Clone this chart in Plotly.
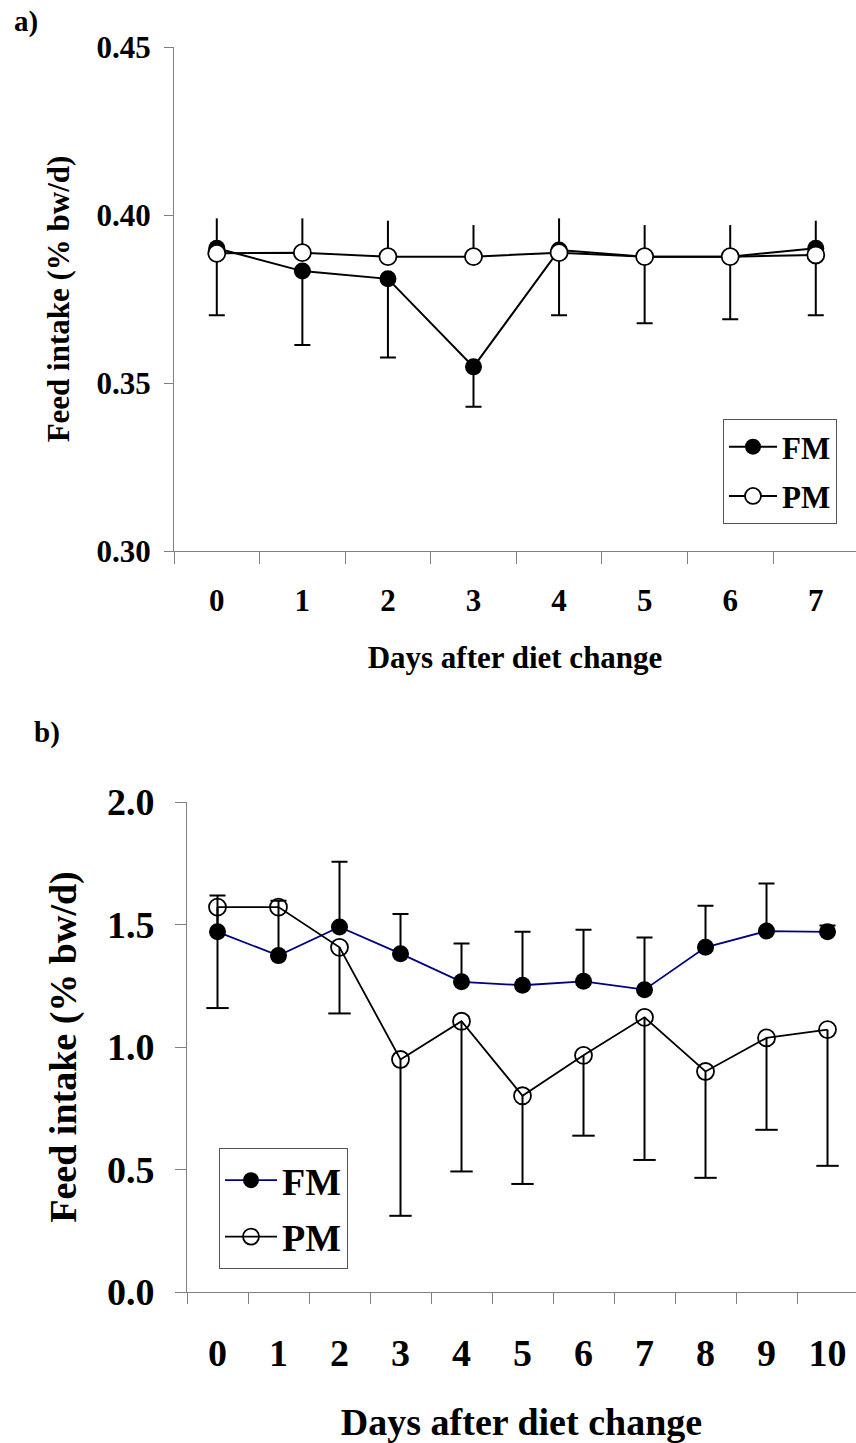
import plotly.graph_objects as go

W, H = 856, 1443

# ---- Panel a: first week after the diet change ----
days_a = [0, 1, 2, 3, 4, 5, 6, 7]
fm_a = [0.3901, 0.3833, 0.3810, 0.3548, 0.3896, 0.3876, 0.3876, 0.3901]
fm_a_err = [0.0199, 0.0220, 0.0234, 0.0119, 0.0194, 0.0198, 0.0186, 0.0199]   # drawn downwards
pm_a = [0.3886, 0.3888, 0.3876, 0.3876, 0.3888, 0.3876, 0.3876, 0.3881]
pm_a_err = [0.0104, 0.0102, 0.0107, 0.0094, 0.0102, 0.0094, 0.0094, 0.0102]   # drawn upwards
yticks_a = [0.30, 0.35, 0.40, 0.45]
yticklabels_a = ["0.30", "0.35", "0.40", "0.45"]

# ---- Panel b: ten days after the diet change ----
days_b = [0, 1, 2, 3, 4, 5, 6, 7, 8, 9, 10]
fm_b = [1.470, 1.373, 1.490, 1.381, 1.266, 1.252, 1.268, 1.234, 1.407, 1.473, 1.470]
fm_b_err = [0.148, 0.224, 0.266, 0.162, 0.156, 0.218, 0.211, 0.213, 0.170, 0.194, 0.026]  # upwards
pm_b = [1.571, 1.571, 1.407, 0.949, 1.105, 0.801, 0.966, 1.121, 0.900, 1.037, 1.071]
pm_b_err = [0.412, 0.0, 0.270, 0.638, 0.613, 0.360, 0.328, 0.582, 0.434, 0.375, 0.556]    # downwards
yticks_b = [0.0, 0.5, 1.0, 1.5, 2.0]
yticklabels_b = ["0.0", "0.5", "1.0", "1.5", "2.0"]

SERIF = "Liberation Serif"
AXIS_GREY = "#808080"


def px_x(p):
    return p / W


def px_y(p):
    return 1 - p / H


def bold(size):
    return dict(family=SERIF, size=size, color="black", weight="bold")


fig = go.Figure()

# panel a
fig.add_trace(go.Scatter(
    x=days_a, y=fm_a, name="FM", mode="lines+markers", legendgroup="fm_a",
    line=dict(color="black", width=2),
    marker=dict(symbol="circle", size=17, color="black"),
    error_y=dict(type="data", symmetric=False, array=[0] * len(days_a),
                 arrayminus=fm_a_err, color="black", thickness=2, width=8),
    xaxis="x", yaxis="y", legend="legend",
))
fig.add_trace(go.Scatter(
    x=days_a, y=pm_a, name="PM", mode="lines+markers", legendgroup="pm_a",
    line=dict(color="black", width=2),
    marker=dict(symbol="circle", size=17, color="white",
                line=dict(color="black", width=1.8)),
    error_y=dict(type="data", symmetric=False, array=pm_a_err,
                 arrayminus=[0] * len(days_a), color="black", thickness=2, width=0),
    xaxis="x", yaxis="y", legend="legend",
))

# panel b
fig.add_trace(go.Scatter(
    x=days_b, y=fm_b, name="FM", mode="lines+markers", legendgroup="fm_b",
    line=dict(color="#000080", width=1.8),
    marker=dict(symbol="circle", size=17, color="black"),
    error_y=dict(type="data", symmetric=False, array=fm_b_err,
                 arrayminus=[0] * len(days_b), color="black", thickness=2, width=8),
    xaxis="x2", yaxis="y2", legend="legend2",
))
fig.add_trace(go.Scatter(
    x=days_b, y=pm_b, name="PM", mode="lines+markers", legendgroup="pm_b",
    line=dict(color="black", width=1.8),
    marker=dict(symbol="circle-open", size=17, color="black", line=dict(width=1.8)),
    error_y=dict(type="data", symmetric=False, array=[0] * len(days_b),
                 arrayminus=pm_b_err, color="black", thickness=2, width=0),
    xaxis="x2", yaxis="y2", legend="legend2",
))
# end caps of the PM whiskers
fig.add_trace(go.Scatter(
    x=days_b, y=[m - e if e > 0 else None for m, e in zip(pm_b, pm_b_err)],
    mode="markers", showlegend=False, hoverinfo="skip",
    marker=dict(symbol="line-ew", size=16, line=dict(color="black", width=2)),
    xaxis="x2", yaxis="y2",
))


def x_axis(days, right, domain_left, font_size, ticklen, label_off, title_off):
    return dict(
        domain=[domain_left, 1.0], range=[-0.5, right], automargin=False,
        tickmode="array", tickvals=days, ticktext=[str(d) for d in days],
        ticks="", tickfont=bold(font_size), ticklabelstandoff=label_off,
        minor=dict(tickmode="array", tickvals=[d - 0.5 for d in days] + [days[-1] + 0.5],
                   ticks="outside", ticklen=ticklen, tickwidth=1, tickcolor=AXIS_GREY,
                   showgrid=False),
        showline=True, linecolor=AXIS_GREY, linewidth=1,
        showgrid=False, zeroline=False, fixedrange=True,
        title=dict(text="Days after diet change", font=bold(font_size), standoff=title_off),
    )


def y_axis(domain, rng, vals, labels, font_size, ticklen, label_off, title_off):
    return dict(
        domain=domain, range=rng, automargin=False,
        tickmode="array", tickvals=vals, ticktext=labels,
        ticks="outside", ticklen=ticklen, tickwidth=1, tickcolor=AXIS_GREY,
        tickfont=bold(font_size), ticklabelstandoff=label_off,
        showline=True, linecolor=AXIS_GREY, linewidth=1,
        showgrid=False, zeroline=False, fixedrange=True,
        title=dict(text="Feed intake (% bw/d)", font=bold(font_size), standoff=title_off),
    )


fig.update_layout(
    width=W, height=H, autosize=False,
    margin=dict(l=0, r=0, t=0, b=0, autoexpand=False),
    paper_bgcolor="white", plot_bgcolor="white",
    showlegend=True,
    xaxis=dict(anchor="y", **x_axis(days_a, 7.47, px_x(174), 31, 12, 22, 29)),
    yaxis=dict(anchor="x", **y_axis([px_y(551), px_y(47)], [0.30, 0.45],
                                    yticks_a, yticklabels_a, 31, 9, 7, 17)),
    xaxis2=dict(anchor="y2", **x_axis(days_b, 10.467, px_x(187), 38, 11, 27, 36)),
    yaxis2=dict(anchor="x2", **y_axis([px_y(1292), px_y(802)], [0.0, 2.0],
                                     yticks_b, yticklabels_b, 38, 11, 13, 18)),
    legend=dict(x=px_x(723), y=px_y(419), xanchor="left", yanchor="top",
                bgcolor="white", bordercolor="#555555", borderwidth=1,
                font=bold(31), tracegroupgap=6, itemwidth=48),
    legend2=dict(x=px_x(219), y=px_y(1148), xanchor="left", yanchor="top",
                 bgcolor="white", bordercolor="#555555", borderwidth=1,
                 font=bold(38), tracegroupgap=4, itemwidth=52),
    annotations=[
        dict(text="a)", x=px_x(26), y=px_y(22), xref="paper", yref="paper",
             xanchor="center", yanchor="middle", showarrow=False, font=bold(29)),
        dict(text="b)", x=px_x(47), y=px_y(732), xref="paper", yref="paper",
             xanchor="center", yanchor="middle", showarrow=False, font=bold(29)),
    ],
)

fig.write_html("out.html")
